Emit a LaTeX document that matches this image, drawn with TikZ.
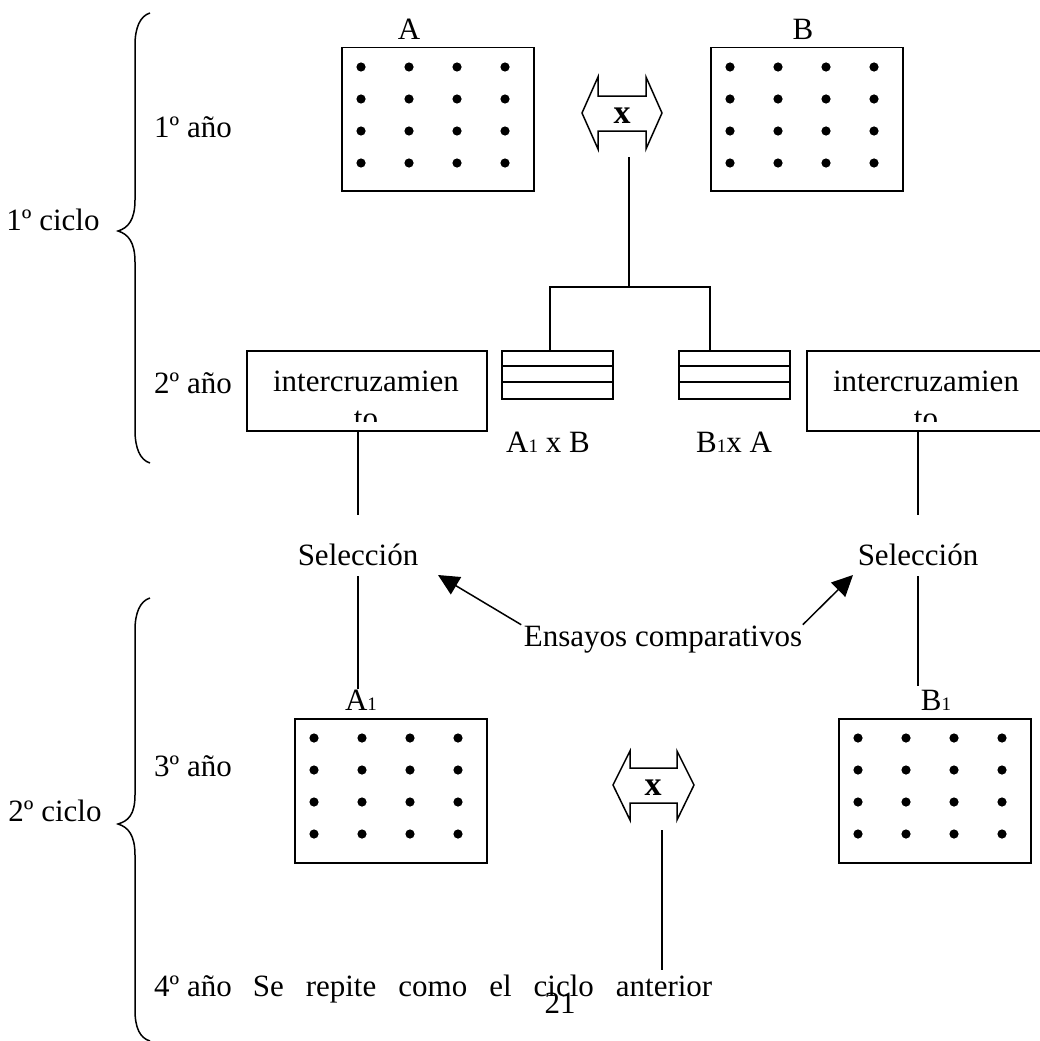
\documentclass[tikz,border=0pt]{standalone}
\usepackage{fontspec}
\setmainfont{Liberation Serif}
\usetikzlibrary{arrows.meta}
\newcommand\dotgrid[1]{%
  \foreach \i in {0,...,3}{\foreach \j in {0,...,3}{%
    \fill ([xshift={(20+48*\i)*1pt}, yshift={-(20+32*\j)*1pt}]#1.north west) circle (4.6pt);}}}
\newcommand\sub[1]{{\fontsize{19}{19}\selectfont #1}}
\begin{document}
\begin{tikzpicture}[x=1pt,y=-1pt, line width=1.5pt,
  txt/.style={font=\fontsize{31}{36}\selectfont, inner sep=0pt, anchor=base},
  plotbox/.style={draw, minimum width=192pt, minimum height=143pt, inner sep=0pt, anchor=north west},
  icbox/.style={draw, minimum width=240pt, minimum height=80pt, inner sep=0pt, anchor=north west},
  smallbox/.style={draw, minimum width=111pt, minimum height=48pt, inner sep=0pt, anchor=north west},
  xlab/.style={font=\fontsize{34}{36}\selectfont\bfseries, inner sep=0pt},
  arr/.style={-{Triangle[length=21pt,width=20pt]}}]
\useasboundingbox (0,0) rectangle (1040,1041);

% braces
\draw (150,13) .. controls (140,16) and (135,28) .. (135,45) -- (135,200)
  .. controls (135,220) and (128,228) .. (118,231)
  .. controls (128,234) and (135,242) .. (135,262) -- (135,430)
  .. controls (135,448) and (140,460) .. (150,463);
\draw (150,598) .. controls (140,601) and (135,613) .. (135,630) -- (135,795)
  .. controls (135,815) and (128,821) .. (118,824)
  .. controls (128,827) and (135,835) .. (135,855) -- (135,1010)
  .. controls (135,1028) and (140,1038) .. (150,1041);

\node[txt] (c1) at (53,230) {1º ciclo};
\node[txt] (y1) at (193,137) {1º año};
\node[txt] (y2) at (193,393) {2º año};
\node[txt] (c2) at (55,821) {2º ciclo};
\node[txt] (y3) at (193,776) {3º año};
\node[txt] (y4) at (193,996) {4º año};

% top plots
\node[plotbox] (pA) at (341,47) {};
\node[plotbox] (pB) at (710,47) {};
\dotgrid{pA}
\dotgrid{pB}
\node[txt] (lA) at (409,40) {A};
\node[txt] (lB) at (803,40) {B};

% top double arrow
\draw (582,113) -- (598,77) -- (598,96) -- (646,96) -- (646,77) -- (662,113)
  -- (646,149) -- (646,131) -- (598,131) -- (598,149) -- cycle;
\node[xlab] (xa) at (622,116) {x};

% tree
\coordinate (xtop) at (629,157);
\coordinate (jt) at (629,287);
\coordinate (jL) at (550,287);
\coordinate (jR) at (710,287);
\node[smallbox] (cL) at (501,350) {};
\node[smallbox] (cR) at (678,350) {};
\draw (cL.west |- 0,366) -- (cL.east |- 0,366) (cL.west |- 0,382) -- (cL.east |- 0,382);
\draw (cR.west |- 0,366) -- (cR.east |- 0,366) (cR.west |- 0,382) -- (cR.east |- 0,382);
\draw (xtop) -- (jt);
\draw (jL |- cL.north) -- (jL) -- (jR) -- (jR |- cR.north);
\node[txt] (lcL) at (548,452) {A\sub{1} x B};
\node[txt] (lcR) at (734,452) {B\sub{1}x A};

% intercruzamiento boxes
\node[icbox] (ic1) at (246,350) {};
\node[icbox] (ic2) at (806,350) {};
\node[txt] (t1) at (366,391) {intercruzamien};
\node[txt] (t2) at (926,391) {intercruzamien};
\begin{scope}
  \clip (246,350) rectangle (486,421);
  \node[txt] (t1b) at (366,428) {to};
\end{scope}
\begin{scope}
  \clip (806,350) rectangle (1046,421);
  \node[txt] (t2b) at (926,428) {to};
\end{scope}

% seleccion
\node[txt] (sL) at (358,565) {Selección};
\node[txt] (sR) at (918,565) {Selección};
\node[txt] (ens) at (663,646) {Ensayos comparativos};
\coordinate (tipL) at (438,575);
\coordinate (tipR) at (853,575);
\draw[arr] ([xshift=-2pt]ens.north west) -- (tipL);
\draw[arr] (ens.north east) -- (tipR);

% bottom plots
\node[plotbox, minimum height=144pt] (pA1) at (294,718) {};
\node[plotbox, minimum height=144pt] (pB1) at (838,718) {};
\dotgrid{pA1}
\dotgrid{pB1}
\node[txt] (lA1) at (361,710) {A\sub{1}};
\node[txt] (lB1) at (936,710) {B\sub{1}};

\draw (ic1.south -| sL.base) -- ([yshift=28pt]sL.north);
\draw ([yshift=-10pt]sL.south) -- (lA1.north -| sL.base);
\draw (ic2.south -| sR.base) -- ([yshift=28pt]sR.north);
\draw ([yshift=-10pt]sR.south) -- ([yshift=3pt]lB1.north -| sR.base);

% bottom double arrow
\draw (613,785) -- (630,751) -- (630,768) -- (677,768) -- (677,751) -- (694,785)
  -- (677,820) -- (677,803) -- (630,803) -- (630,820) -- cycle;
\node[xlab] (xb) at (653,788) {x};
\coordinate (xbot) at (662,830);
\node[txt, anchor=base east] (rep) at (713,996) {\spaceskip=22pt\relax Se repite como el ciclo anterior};
\draw (xbot) -- ([yshift=4pt]rep.north -| xbot);
\node[txt] (pg) at (560,1013) {21};
\end{tikzpicture}
\end{document}
